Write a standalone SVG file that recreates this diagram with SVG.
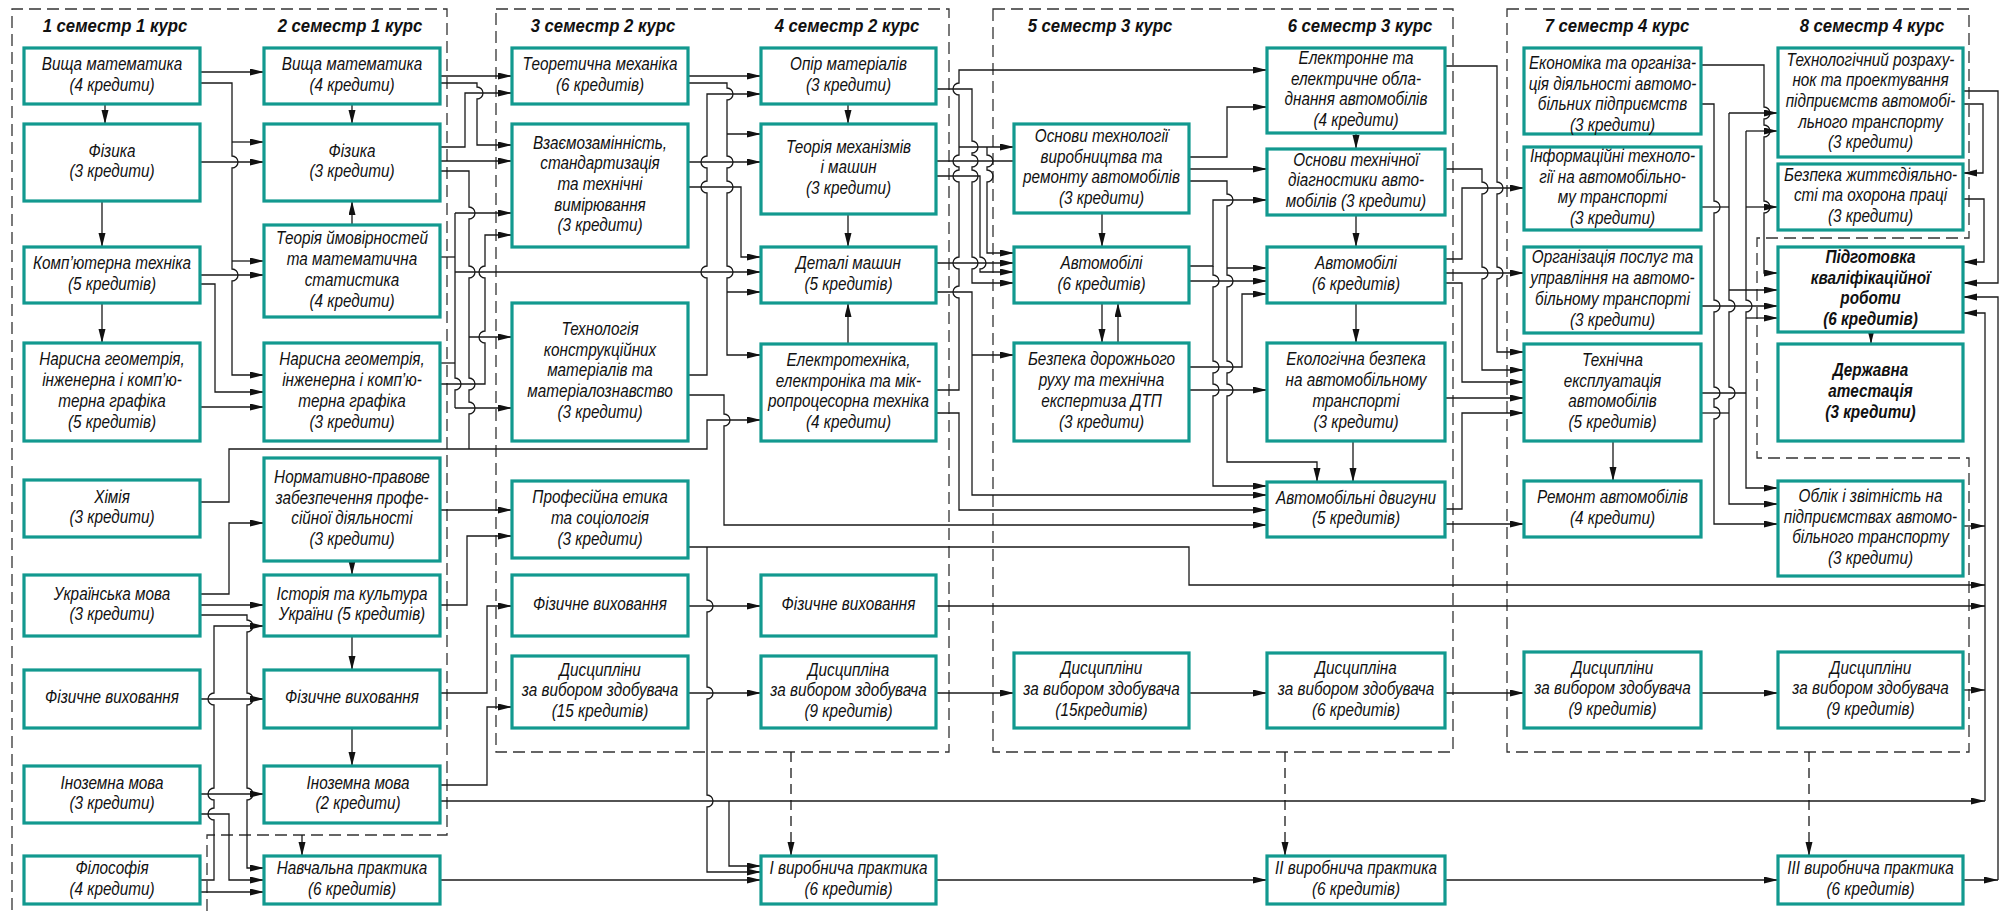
<svg xmlns="http://www.w3.org/2000/svg" width="2001" height="911" viewBox="0 0 2001 911">
<defs>
<marker id="a" markerUnits="userSpaceOnUse" markerWidth="14" markerHeight="8" refX="14" refY="3.5" orient="auto"><path d="M0,0 L14,3.5 L0,7 z" fill="#111"/></marker>
<style>
.n rect{fill:#fff;stroke:#12998f;stroke-width:3.2}
.n text{font-family:"Liberation Sans",Arial,sans-serif;font-style:italic;font-size:18px;fill:#111;text-anchor:middle}
.n.b text{font-weight:bold}
.ttl{font-family:"Liberation Sans",Arial,sans-serif;font-style:italic;font-weight:bold;font-size:19px;fill:#111;text-anchor:middle}
.d{fill:none;stroke:#333;stroke-width:1.3;stroke-dasharray:12 6}
#conn path{fill:none;stroke:#1a1a1a;stroke-width:1.3}
#conn path.k{marker-end:url(#a)}
#conn path.ds{stroke-dasharray:10 6}
</style>
</defs>
<rect width="2001" height="911" fill="#fff"/>
<g id="frames">
<path class="d" d="M207,911 V835 H447 V9 H12 V911"/>
<rect class="d" x="496" y="9" width="453" height="743"/>
<rect class="d" x="993" y="9" width="460" height="743"/>
<path class="d" d="M1507,9 H1969 V238 H1757 V458 H1969 V752 H1507 Z"/>
</g>
<g id="titles">
<text class="ttl" transform="translate(115,32) scale(0.88,1)">1 семестр 1 курс</text>
<text class="ttl" transform="translate(350,32) scale(0.88,1)">2 семестр 1 курс</text>
<text class="ttl" transform="translate(603,32) scale(0.88,1)">3 семестр 2 курс</text>
<text class="ttl" transform="translate(847,32) scale(0.88,1)">4 семестр 2 курс</text>
<text class="ttl" transform="translate(1100,32) scale(0.88,1)">5 семестр 3 курс</text>
<text class="ttl" transform="translate(1360,32) scale(0.88,1)">6 семестр 3 курс</text>
<text class="ttl" transform="translate(1617,32) scale(0.88,1)">7 семестр 4 курс</text>
<text class="ttl" transform="translate(1872,32) scale(0.88,1)">8 семестр 4 курс</text>
</g>
<g id="conn">
<path class="k" d="M200,72 H264"/>
<path class="k" d="M200,83 H232 V156 A6,6 0 0,1 232,168 V269 A6,6 0 0,1 232,281 V375 H264"/>
<path class="k" d="M232,142 H264"/>
<path class="k" d="M232,261 H264"/>
<path class="k" d="M200,162 H264"/>
<path class="k" d="M200,275 H264"/>
<path class="k" d="M200,284 H215 V392 H264"/>
<path class="k" d="M200,407 H264"/>
<path class="k" d="M105,104 V124"/>
<path class="k" d="M102,201 V247"/>
<path class="k" d="M102,303 V343"/>
<path class="k" d="M352,104 V124"/>
<path class="k" d="M352,225 V201"/>
<path class="k" d="M200,502 H229 V449 H707 V420 H761"/>
<path class="k" d="M200,594 H229 V523 H264"/>
<path class="k" d="M200,605 H264"/>
<path class="k" d="M200,615 H247 V620 A6,6 0 0,1 247,632 V693 A6,6 0 0,1 247,705 V788 A6,6 0 0,1 247,800 V868 H264"/>
<path class="k" d="M200,880 H214 V820 A6,6 0 0,1 214,808 V800 A6,6 0 0,1 214,788 V705 A6,6 0 0,1 214,693 V626 H264"/>
<path class="k" d="M200,699 H264"/>
<path class="k" d="M200,794 H264"/>
<path class="k" d="M200,814 H229 V880 H264"/>
<path class="k" d="M200,892 H264"/>
<path class="k" d="M352,561 V575"/>
<path class="k" d="M352,636 V670"/>
<path class="k" d="M352,728 V766"/>
<path class="k" d="M302,835 V856"/>
<path class="k" d="M440,76 H512"/>
<path class="k" d="M440,83 H477 V87 A6,6 0 0,1 477,99 V145 H512"/>
<path class="k" d="M440,147 H465 V93 H512"/>
<path class="k" d="M440,161 H512"/>
<path d="M440,171 H469 V207 A6,6 0 0,1 469,219 V266 A6,6 0 0,1 469,278 V378 A6,6 0 0,1 469,390 V402 A6,6 0 0,1 469,414 V449"/>
<path class="k" d="M469,337 H512"/>
<path d="M440,257 H455"/>
<path d="M440,363 H455"/>
<path d="M455,213 V378 A6,6 0 0,1 455,390 V408"/>
<path class="k" d="M455,213 H512"/>
<path class="k" d="M455,272 H761"/>
<path class="k" d="M455,408 H512"/>
<path class="k" d="M440,384 H485 V343 A6,6 0 0,1 485,331 V278 A6,6 0 0,1 485,266 V235 H512"/>
<path class="k" d="M440,510 H512"/>
<path class="k" d="M440,605 H467 V536 H512"/>
<path class="k" d="M440,693 H487 V606 H512"/>
<path class="k" d="M440,785 H487 V707 H512"/>
<path class="k" d="M440,801 H1985"/>
<path class="k" d="M729,801 V866 H761"/>
<path class="k" d="M440,880 H761"/>
<path class="k" d="M688,76 H761"/>
<path class="k" d="M688,83 H727 V88 A6,6 0 0,1 727,100 V156 A6,6 0 0,1 727,168 V181 A6,6 0 0,1 727,193 V266 A6,6 0 0,1 727,278 V355 H761"/>
<path class="k" d="M727,134 H761"/>
<path class="k" d="M727,292 H761"/>
<path class="k" d="M688,162 H761"/>
<path class="k" d="M688,187 H741 V257 H761"/>
<path class="k" d="M688,375 H707 V278 A6,6 0 0,1 707,266 V193 A6,6 0 0,1 707,181 V168 A6,6 0 0,1 707,156 V94 H761"/>
<path class="k" d="M688,395 H724 V414 A6,6 0 0,1 724,426 V525 H1267"/>
<path class="k" d="M688,547 H1189 V585 H1985"/>
<path class="k" d="M707,547 V600 A6,6 0 0,1 707,612 V687 A6,6 0 0,1 707,699 V795 A6,6 0 0,1 707,807 V872 H761"/>
<path class="k" d="M688,606 H761"/>
<path class="k" d="M688,693 H761"/>
<path class="k" d="M848,104 V124"/>
<path class="k" d="M848,214 V247"/>
<path class="k" d="M848,344 V303"/>
<path class="k ds" d="M791,752 V856"/>
<path class="k" d="M936,390 H959 V298 A6,6 0 0,1 959,286 V269 A6,6 0 0,1 959,257 V182 A6,6 0 0,1 959,170 V167 A6,6 0 0,1 959,155 V95 A6,6 0 0,1 959,83 V70 H1267"/>
<path class="k" d="M959,147 H1014"/>
<path class="k" d="M936,413 H959 V510 H1267"/>
<path class="k" d="M936,89 H972 V141 A6,6 0 0,1 972,153 V155 A6,6 0 0,1 972,167 V170 A6,6 0 0,1 972,182 V257 A6,6 0 0,1 972,269 V283 H1014"/>
<path d="M936,161 H1014"/>
<path class="k" d="M936,176 H980 V257 A6,6 0 0,1 980,269 V272 H1014"/>
<path class="k" d="M987,147 V155 A6,6 0 0,1 987,167 V170 A6,6 0 0,1 987,182 V253 H1014"/>
<path class="k" d="M936,263 H1014"/>
<path class="k" d="M936,292 H972 V495 H1267"/>
<path class="k" d="M972,355 H1014"/>
<path class="k ds" d="M1285,752 V856"/>
<path class="k" d="M936,693 H1014"/>
<path class="k" d="M936,880 H1267"/>
<path class="k" d="M936,606 H1985"/>
<path class="k" d="M1189,157 H1227 V107 H1267"/>
<path class="k" d="M1189,169 H1267"/>
<path class="k" d="M1189,181 H1227 V194 A6,6 0 0,1 1227,206 V275 A6,6 0 0,1 1227,287 V361 A6,6 0 0,1 1227,373 V384 A6,6 0 0,1 1227,396 V462 H1317 V482"/>
<path class="k" d="M1227,268 H1267"/>
<path class="k" d="M1189,266 H1213 V200 H1267"/>
<path class="k" d="M1213,266 V275 A6,6 0 0,1 1213,287 V361 A6,6 0 0,1 1213,373 V384 A6,6 0 0,1 1213,396 V486 H1267"/>
<path class="k" d="M1189,281 H1267"/>
<path class="k" d="M1189,367 H1242 V294 H1267"/>
<path class="k" d="M1189,390 H1267"/>
<path class="k" d="M1102,213 V247"/>
<path class="k" d="M1102,303 V343"/>
<path class="k" d="M1118,343 V303"/>
<path class="k" d="M1356,133 V149"/>
<path class="k" d="M1356,215 V247"/>
<path class="k" d="M1356,303 V343"/>
<path class="k" d="M1353,441 V482"/>
<path class="k" d="M1189,693 H1267"/>
<path class="k" d="M1445,880 H1778"/>
<path class="k" d="M1445,693 H1524"/>
<path class="k" d="M1445,66 H1497 V182 A6,6 0 0,1 1497,194 V267 A6,6 0 0,1 1497,279 V352 H1524"/>
<path class="k" d="M1445,169 H1482 V182 A6,6 0 0,1 1482,194 V267 A6,6 0 0,1 1482,279 V370 H1524"/>
<path class="k" d="M1445,259 H1462 V188 H1524"/>
<path class="k" d="M1445,273 H1524"/>
<path class="k" d="M1445,283 H1462 V382 H1524"/>
<path class="k" d="M1445,398 H1524"/>
<path class="k" d="M1445,509 H1462 V413 H1524"/>
<path class="k" d="M1445,524 H1524"/>
<path class="k" d="M1701,65 H1764 V107 A6,6 0 0,1 1764,119 V125 A6,6 0 0,1 1764,137 V201 A6,6 0 0,1 1764,213 V273 H1778"/>
<path class="k" d="M1701,104 H1714 V201 A6,6 0 0,1 1714,213 V300 A6,6 0 0,1 1714,312 V387 A6,6 0 0,1 1714,399 V407 A6,6 0 0,1 1714,419 V524 H1778"/>
<path d="M1701,207 H1729"/>
<path class="k" d="M1729,113 V300 A6,6 0 0,1 1729,312 V387 A6,6 0 0,1 1729,399 V504 H1778"/>
<path class="k" d="M1729,113 H1778"/>
<path class="k" d="M1729,290 H1778"/>
<path class="k" d="M1701,306 H1778"/>
<path d="M1701,393 H1746"/>
<path class="k" d="M1746,131 V300 A6,6 0 0,1 1746,312 V488 H1778"/>
<path class="k" d="M1746,131 H1778"/>
<path class="k" d="M1746,207 H1778"/>
<path class="k" d="M1746,318 H1778"/>
<path d="M1701,413 H1729"/>
<path class="k" d="M1613,441 V481"/>
<path class="k" d="M1871,332 V344"/>
<path class="k" d="M1701,693 H1778"/>
<path class="k ds" d="M1809,752 V856"/>
<path class="k" d="M1963,91 H1998 V283 H1963"/>
<path class="k" d="M1963,104 H1983 V173 H1963"/>
<path class="k" d="M1963,199 H1984 V262 H1963"/>
<path class="k" d="M1985,801 V313 H1963"/>
<path class="k" d="M1963,526 H1985"/>
<path class="k" d="M1963,690 H1985"/>
<path class="k" d="M1963,880 H1998"/>
<path class="k" d="M1998,880 V297 H1963"/>
</g>
<g id="n1" class="n"><rect x="24" y="48" width="176" height="56"/><text transform="translate(112,0) scale(0.85,1)"><tspan x="0" y="70">Вища математика</tspan><tspan x="0" y="91">(4 кредити)</tspan></text></g>
<g id="n2" class="n"><rect x="24" y="124" width="176" height="77"/><text transform="translate(112,0) scale(0.85,1)"><tspan x="0" y="156.6">Фізика</tspan><tspan x="0" y="177.3">(3 кредити)</tspan></text></g>
<g id="n3" class="n"><rect x="24" y="247" width="176" height="56"/><text transform="translate(112,0) scale(0.85,1)"><tspan x="0" y="269.2">Комп’ютерна техніка</tspan><tspan x="0" y="289.8">(5 кредитів)</tspan></text></g>
<g id="n4" class="n"><rect x="24" y="343" width="176" height="98"/><text transform="translate(112,0) scale(0.85,1)"><tspan x="0" y="365.5">Нарисна геометрія,</tspan><tspan x="0" y="386.2">інженерна і комп’ю-</tspan><tspan x="0" y="406.9">терна графіка</tspan><tspan x="0" y="427.6">(5 кредитів)</tspan></text></g>
<g id="n5" class="n"><rect x="24" y="480" width="176" height="57"/><text transform="translate(112,0) scale(0.85,1)"><tspan x="0" y="502.6">Хімія</tspan><tspan x="0" y="523.3">(3 кредити)</tspan></text></g>
<g id="n6" class="n"><rect x="24" y="575" width="176" height="61"/><text transform="translate(112,0) scale(0.85,1)"><tspan x="0" y="599.6">Українська мова</tspan><tspan x="0" y="620.3">(3 кредити)</tspan></text></g>
<g id="n7" class="n"><rect x="24" y="670" width="176" height="58"/><text transform="translate(112,0) scale(0.85,1)"><tspan x="0" y="703.5">Фізичне виховання</tspan></text></g>
<g id="n8" class="n"><rect x="24" y="766" width="176" height="57"/><text transform="translate(112,0) scale(0.85,1)"><tspan x="0" y="788.6">Іноземна  мова</tspan><tspan x="0" y="809.3">(3 кредити)</tspan></text></g>
<g id="n9" class="n"><rect x="24" y="856" width="176" height="48"/><text transform="translate(112,0) scale(0.85,1)"><tspan x="0" y="874.2">Філософія</tspan><tspan x="0" y="894.8">(4 кредити)</tspan></text></g>
<g id="n10" class="n"><rect x="264" y="48" width="176" height="56"/><text transform="translate(352,0) scale(0.85,1)"><tspan x="0" y="70">Вища математика</tspan><tspan x="0" y="91">(4 кредити)</tspan></text></g>
<g id="n11" class="n"><rect x="264" y="124" width="176" height="77"/><text transform="translate(352,0) scale(0.85,1)"><tspan x="0" y="156.6">Фізика</tspan><tspan x="0" y="177.3">(3 кредити)</tspan></text></g>
<g id="n12" class="n"><rect x="264" y="225" width="176" height="92"/><text transform="translate(352,0) scale(0.85,1)"><tspan x="0" y="244.5">Теорія ймовірностей</tspan><tspan x="0" y="265.2">та математична</tspan><tspan x="0" y="285.9">статистика</tspan><tspan x="0" y="306.6">(4 кредити)</tspan></text></g>
<g id="n13" class="n"><rect x="264" y="343" width="176" height="98"/><text transform="translate(352,0) scale(0.85,1)"><tspan x="0" y="365.5">Нарисна геометрія,</tspan><tspan x="0" y="386.2">інженерна і комп’ю-</tspan><tspan x="0" y="406.9">терна графіка</tspan><tspan x="0" y="427.6">(3 кредити)</tspan></text></g>
<g id="n14" class="n"><rect x="264" y="458" width="176" height="103"/><text transform="translate(352,0) scale(0.85,1)"><tspan x="0" y="483">Нормативно-правове</tspan><tspan x="0" y="503.7">забезпечення профе-</tspan><tspan x="0" y="524.4">сійної діяльності</tspan><tspan x="0" y="545.1">(3 кредити)</tspan></text></g>
<g id="n15" class="n"><rect x="264" y="575" width="176" height="61"/><text transform="translate(352,0) scale(0.85,1)"><tspan x="0" y="599.6">Історія та культура</tspan><tspan x="0" y="620.3">України (5 кредитів)</tspan></text></g>
<g id="n16" class="n"><rect x="264" y="670" width="176" height="58"/><text transform="translate(352,0) scale(0.85,1)"><tspan x="0" y="703.5">Фізичне виховання</tspan></text></g>
<g id="n17" class="n"><rect x="264" y="766" width="176" height="57"/><text transform="translate(358,0) scale(0.85,1)"><tspan x="0" y="788.6">Іноземна мова</tspan><tspan x="0" y="809.3">(2 кредити)</tspan></text></g>
<g id="n18" class="n"><rect x="264" y="856" width="176" height="48"/><text transform="translate(352,0) scale(0.85,1)"><tspan x="0" y="874.2">Навчальна практика</tspan><tspan x="0" y="894.8">(6 кредитів)</tspan></text></g>
<g id="n19" class="n"><rect x="512" y="48" width="176" height="56"/><text transform="translate(600,0) scale(0.85,1)"><tspan x="0" y="70">Теоретична механіка</tspan><tspan x="0" y="91">(6 кредитів)</tspan></text></g>
<g id="n20" class="n"><rect x="512" y="124" width="176" height="123"/><text transform="translate(600,0) scale(0.85,1)"><tspan x="0" y="148.6">Взаємозамінність,</tspan><tspan x="0" y="169.3">стандартизація</tspan><tspan x="0" y="190">та технічні</tspan><tspan x="0" y="210.7">вимірювання</tspan><tspan x="0" y="231.4">(3 кредити)</tspan></text></g>
<g id="n21" class="n"><rect x="512" y="303" width="176" height="138"/><text transform="translate(600,0) scale(0.85,1)"><tspan x="0" y="335.1">Технологія</tspan><tspan x="0" y="355.8">конструкційних</tspan><tspan x="0" y="376.5">матеріалів та</tspan><tspan x="0" y="397.2">матеріалознавство</tspan><tspan x="0" y="417.9">(3 кредити)</tspan></text></g>
<g id="n22" class="n"><rect x="512" y="481" width="176" height="77"/><text transform="translate(600,0) scale(0.85,1)"><tspan x="0" y="503.3">Професійна етика</tspan><tspan x="0" y="524">та соціологія</tspan><tspan x="0" y="544.7">(3 кредити)</tspan></text></g>
<g id="n23" class="n"><rect x="512" y="575" width="176" height="61"/><text transform="translate(600,0) scale(0.85,1)"><tspan x="0" y="610">Фізичне виховання</tspan></text></g>
<g id="n24" class="n"><rect x="512" y="656" width="176" height="72"/><text transform="translate(600,0) scale(0.85,1)"><tspan x="0" y="675.8">Дисципліни</tspan><tspan x="0" y="696.5">за вибором здобувача</tspan><tspan x="0" y="717.2">(15 кредитів)</tspan></text></g>
<g id="n25" class="n"><rect x="761" y="48" width="175" height="56"/><text transform="translate(848.5,0) scale(0.85,1)"><tspan x="0" y="70">Опір матеріалів</tspan><tspan x="0" y="91">(3 кредити)</tspan></text></g>
<g id="n26" class="n"><rect x="761" y="124" width="175" height="90"/><text transform="translate(848.5,0) scale(0.85,1)"><tspan x="0" y="152.8">Теорія механізмів</tspan><tspan x="0" y="173.5">і машин</tspan><tspan x="0" y="194.2">(3 кредити)</tspan></text></g>
<g id="n27" class="n"><rect x="761" y="247" width="175" height="56"/><text transform="translate(848.5,0) scale(0.85,1)"><tspan x="0" y="269.2">Деталі машин</tspan><tspan x="0" y="289.8">(5 кредитів)</tspan></text></g>
<g id="n28" class="n"><rect x="761" y="344" width="175" height="97"/><text transform="translate(848.5,0) scale(0.85,1)"><tspan x="0" y="366">Електротехніка,</tspan><tspan x="0" y="386.7">електроніка та мік-</tspan><tspan x="0" y="407.4">ропроцесорна техніка</tspan><tspan x="0" y="428.1">(4 кредити)</tspan></text></g>
<g id="n29" class="n"><rect x="761" y="575" width="175" height="61"/><text transform="translate(848.5,0) scale(0.85,1)"><tspan x="0" y="610">Фізичне виховання</tspan></text></g>
<g id="n30" class="n"><rect x="761" y="656" width="175" height="72"/><text transform="translate(848.5,0) scale(0.85,1)"><tspan x="0" y="675.8">Дисципліна</tspan><tspan x="0" y="696.5">за вибором здобувача</tspan><tspan x="0" y="717.2">(9 кредитів)</tspan></text></g>
<g id="n31" class="n"><rect x="761" y="856" width="175" height="48"/><text transform="translate(848.5,0) scale(0.85,1)"><tspan x="0" y="874.2">І виробнича практика</tspan><tspan x="0" y="894.8">(6 кредитів)</tspan></text></g>
<g id="n32" class="n"><rect x="1014" y="124" width="175" height="89"/><text transform="translate(1101.5,0) scale(0.85,1)"><tspan x="0" y="142">Основи технології</tspan><tspan x="0" y="162.7">виробництва та</tspan><tspan x="0" y="183.4">ремонту автомобілів</tspan><tspan x="0" y="204.1">(3 кредити)</tspan></text></g>
<g id="n33" class="n"><rect x="1014" y="247" width="175" height="56"/><text transform="translate(1101.5,0) scale(0.85,1)"><tspan x="0" y="269.2">Автомобілі</tspan><tspan x="0" y="289.8">(6 кредитів)</tspan></text></g>
<g id="n34" class="n"><rect x="1014" y="343" width="175" height="98"/><text transform="translate(1101.5,0) scale(0.85,1)"><tspan x="0" y="365.5">Безпека дорожнього</tspan><tspan x="0" y="386.2">руху та технічна</tspan><tspan x="0" y="406.9">експертиза ДТП</tspan><tspan x="0" y="427.6">(3 кредити)</tspan></text></g>
<g id="n35" class="n"><rect x="1014" y="653" width="175" height="75"/><text transform="translate(1101.5,0) scale(0.85,1)"><tspan x="0" y="674.3">Дисципліни</tspan><tspan x="0" y="695">за вибором здобувача</tspan><tspan x="0" y="715.7">(15кредитів)</tspan></text></g>
<g id="n36" class="n"><rect x="1267" y="48" width="178" height="85"/><text transform="translate(1356,0) scale(0.85,1)"><tspan x="0" y="64">Електронне та</tspan><tspan x="0" y="84.7">електричне обла-</tspan><tspan x="0" y="105.4">днання автомобілів</tspan><tspan x="0" y="126.1">(4 кредити)</tspan></text></g>
<g id="n37" class="n"><rect x="1267" y="149" width="178" height="66"/><text transform="translate(1356,0) scale(0.85,1)"><tspan x="0" y="165.8">Основи технічної</tspan><tspan x="0" y="186.5">діагностики авто-</tspan><tspan x="0" y="207.2">мобілів (3 кредити)</tspan></text></g>
<g id="n38" class="n"><rect x="1267" y="247" width="178" height="56"/><text transform="translate(1356,0) scale(0.85,1)"><tspan x="0" y="269.2">Автомобілі</tspan><tspan x="0" y="289.8">(6 кредитів)</tspan></text></g>
<g id="n39" class="n"><rect x="1267" y="343" width="178" height="98"/><text transform="translate(1356,0) scale(0.85,1)"><tspan x="0" y="365.5">Екологічна безпека</tspan><tspan x="0" y="386.2">на автомобільному</tspan><tspan x="0" y="406.9">транспорті</tspan><tspan x="0" y="427.6">(3 кредити)</tspan></text></g>
<g id="n40" class="n"><rect x="1267" y="482" width="178" height="55"/><text transform="translate(1356,0) scale(0.85,1)"><tspan x="0" y="503.6">Автомобільні двигуни</tspan><tspan x="0" y="524.3">(5 кредитів)</tspan></text></g>
<g id="n41" class="n"><rect x="1267" y="653" width="178" height="75"/><text transform="translate(1356,0) scale(0.85,1)"><tspan x="0" y="674.3">Дисципліна</tspan><tspan x="0" y="695">за вибором здобувача</tspan><tspan x="0" y="715.7">(6 кредитів)</tspan></text></g>
<g id="n42" class="n"><rect x="1267" y="856" width="178" height="48"/><text transform="translate(1356,0) scale(0.85,1)"><tspan x="0" y="874.2">ІІ виробнича практика</tspan><tspan x="0" y="894.8">(6 кредитів)</tspan></text></g>
<g id="n43" class="n"><rect x="1524" y="48" width="177" height="86"/><text transform="translate(1612.5,0) scale(0.85,1)"><tspan x="0" y="69">Економіка та організа-</tspan><tspan x="0" y="90">ція діяльності автомо-</tspan><tspan x="0" y="110.5">більних підприємств</tspan><tspan x="0" y="131">(3 кредити)</tspan></text></g>
<g id="n44" class="n"><rect x="1524" y="147" width="177" height="83"/><text transform="translate(1612.5,0) scale(0.85,1)"><tspan x="0" y="162">Інформаційні техноло-</tspan><tspan x="0" y="182.7">гії на автомобільно-</tspan><tspan x="0" y="203.4">му транспорті</tspan><tspan x="0" y="224.1">(3 кредити)</tspan></text></g>
<g id="n45" class="n"><rect x="1524" y="247" width="177" height="86"/><text transform="translate(1612.5,0) scale(0.85,1)"><tspan x="0" y="263.5">Організація послуг та</tspan><tspan x="0" y="284.2">управління на автомо-</tspan><tspan x="0" y="304.9">більному транспорті</tspan><tspan x="0" y="325.6">(3 кредити)</tspan></text></g>
<g id="n46" class="n"><rect x="1524" y="344" width="177" height="97"/><text transform="translate(1612.5,0) scale(0.85,1)"><tspan x="0" y="366">Технічна</tspan><tspan x="0" y="386.7">експлуатація</tspan><tspan x="0" y="407.4">автомобілів</tspan><tspan x="0" y="428.1">(5 кредитів)</tspan></text></g>
<g id="n47" class="n"><rect x="1524" y="481" width="177" height="56"/><text transform="translate(1612.5,0) scale(0.85,1)"><tspan x="0" y="503.1">Ремонт автомобілів</tspan><tspan x="0" y="523.8">(4 кредити)</tspan></text></g>
<g id="n48" class="n"><rect x="1524" y="652" width="177" height="76"/><text transform="translate(1612.5,0) scale(0.85,1)"><tspan x="0" y="673.8">Дисципліни</tspan><tspan x="0" y="694.5">за вибором здобувача</tspan><tspan x="0" y="715.2">(9 кредитів)</tspan></text></g>
<g id="n49" class="n"><rect x="1778" y="48" width="185" height="109"/><text transform="translate(1870.5,0) scale(0.85,1)"><tspan x="0" y="65.6">Технологічний розраху-</tspan><tspan x="0" y="86.3">нок та проектування</tspan><tspan x="0" y="107">підприємств автомобі-</tspan><tspan x="0" y="127.7">льного транспорту</tspan><tspan x="0" y="148.4">(3 кредити)</tspan></text></g>
<g id="n50" class="n"><rect x="1778" y="164" width="185" height="66"/><text transform="translate(1870.5,0) scale(0.85,1)"><tspan x="0" y="180.8">Безпека життєдіяльно-</tspan><tspan x="0" y="201.5">сті та охорона праці</tspan><tspan x="0" y="222.2">(3 кредити)</tspan></text></g>
<g id="n51" class="n b"><rect x="1778" y="247" width="185" height="85"/><text transform="translate(1870.5,0) scale(0.85,1)"><tspan x="0" y="263">Підготовка</tspan><tspan x="0" y="283.7">кваліфікаційної</tspan><tspan x="0" y="304.4">роботи</tspan><tspan x="0" y="325.1">(6 кредитів)</tspan></text></g>
<g id="n52" class="n b"><rect x="1778" y="344" width="185" height="97"/><text transform="translate(1870.5,0) scale(0.85,1)"><tspan x="0" y="376.3">Державна</tspan><tspan x="0" y="397">атестація</tspan><tspan x="0" y="417.7">(3 кредити)</tspan></text></g>
<g id="n53" class="n"><rect x="1778" y="481" width="185" height="95"/><text transform="translate(1870.5,0) scale(0.85,1)"><tspan x="0" y="502">Облік і звітність на</tspan><tspan x="0" y="522.7">підприємствах автомо-</tspan><tspan x="0" y="543.4">більного транспорту</tspan><tspan x="0" y="564.1">(3 кредити)</tspan></text></g>
<g id="n54" class="n"><rect x="1778" y="652" width="185" height="76"/><text transform="translate(1870.5,0) scale(0.85,1)"><tspan x="0" y="673.8">Дисципліни</tspan><tspan x="0" y="694.5">за вибором здобувача</tspan><tspan x="0" y="715.2">(9 кредитів)</tspan></text></g>
<g id="n55" class="n"><rect x="1778" y="856" width="185" height="48"/><text transform="translate(1870.5,0) scale(0.85,1)"><tspan x="0" y="874.2">ІІІ виробнича практика</tspan><tspan x="0" y="894.8">(6 кредитів)</tspan></text></g>
</svg>
